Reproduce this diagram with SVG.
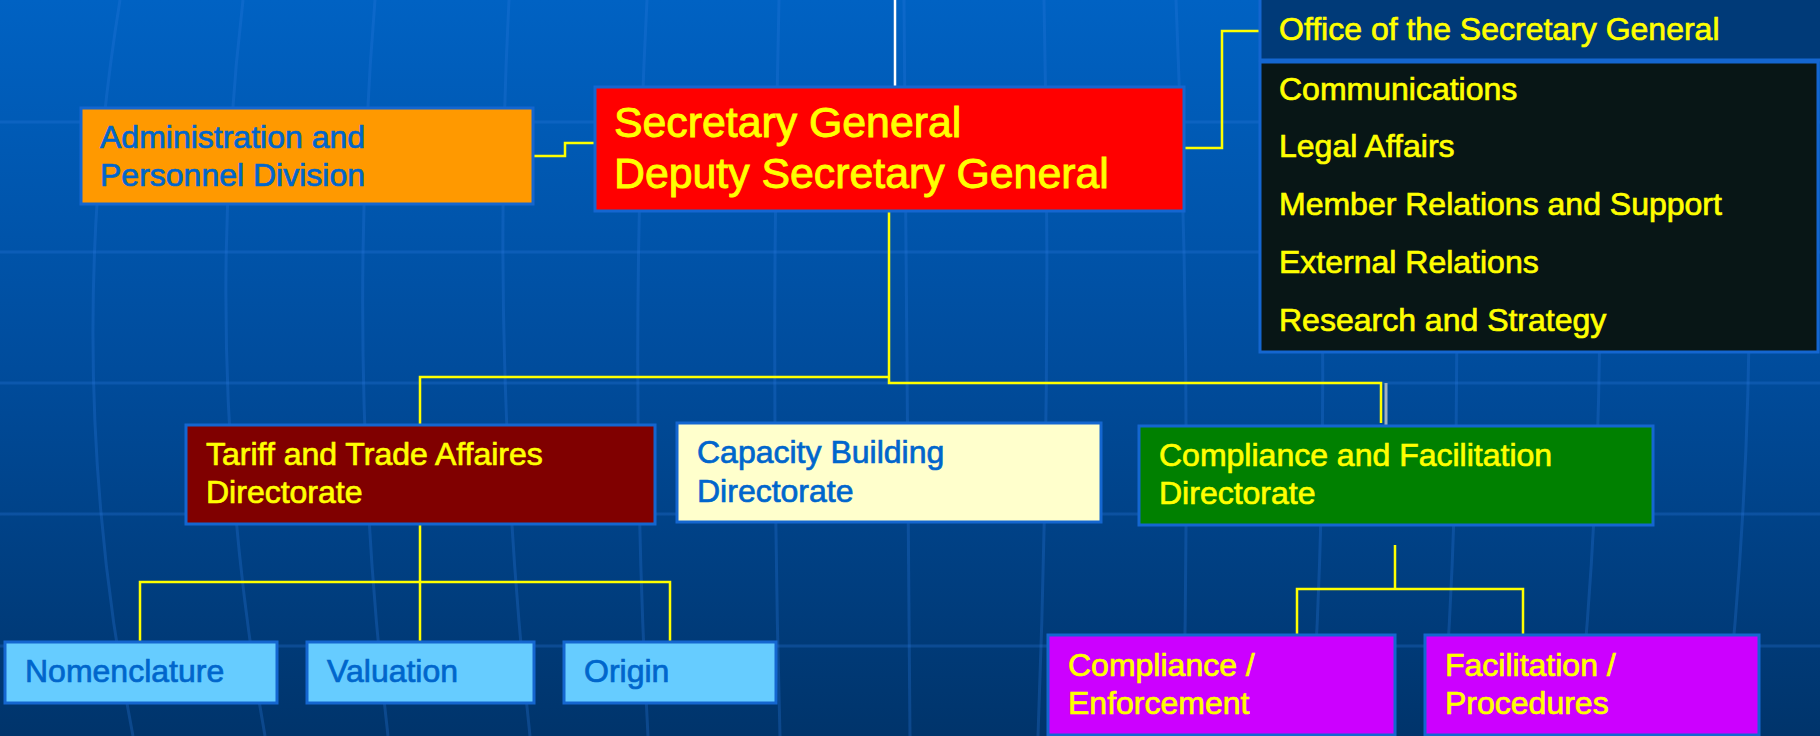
<svg xmlns="http://www.w3.org/2000/svg" width="1820" height="736" viewBox="0 0 1820 736">
<defs>
<linearGradient id="bg" x1="0" y1="0" x2="0" y2="1">
<stop offset="0" stop-color="#0062c3"/>
<stop offset="0.5" stop-color="#004c9c"/>
<stop offset="1" stop-color="#00346b"/>
</linearGradient>
<style>
.grid{fill:none;stroke:#2a7ae0;stroke-opacity:0.28;stroke-width:3}
.box{stroke:#1466d0;stroke-width:3}
.t{font-family:"Liberation Sans",Arial,sans-serif;font-size:32px;stroke-width:0.7px}
.big{font-size:42.8px;stroke-width:0.9px}
.y{fill:#ffff00;stroke:#ffff00}
.b{fill:#0066cc;stroke:#0066cc}
.con{fill:none;stroke:#ffff00;stroke-width:2.5}
</style>
</defs>
<rect width="1820" height="736" fill="url(#bg)"/>
<g id="grid">
<path class="grid" d="M0 122H1820M0 252H1820M0 383H1820M0 514H1820M0 646H1820"/>
<path class="grid" d="M120 0Q60 368 133 736"/>
<path class="grid" d="M243 0Q200 368 265 736"/>
<path class="grid" d="M375 0Q345 368 388 736"/>
<path class="grid" d="M509 0Q490 368 530 736"/>
<path class="grid" d="M647 0Q628 368 648 736"/>
<path class="grid" d="M779 0Q770 368 780 736"/>
<path class="grid" d="M904 0Q908 368 910 736"/>
<path class="grid" d="M1044 0Q1052 368 1038 736"/>
<path class="grid" d="M1176 0Q1192 368 1183 736"/>
<path class="grid" d="M1310 0Q1335 368 1311 736"/>
<path class="grid" d="M1445 0Q1470 368 1442 736"/>
<path class="grid" d="M1590 0Q1615 368 1577 736"/>
<path class="grid" d="M1740 0Q1765 368 1724 736"/>
</g>
<g id="connectors">
<path d="M895 0V93" fill="none" stroke="#ffffff" stroke-width="2.5"/>
<path class="con" d="M533 156H565V143H595"/>
<path class="con" d="M1184 148H1222V31H1260"/>
<path class="con" d="M889 211V383H1381V423"/>
<path class="con" d="M889 377H420V425"/>
<path d="M1386 383V429" fill="none" stroke="#a0b0c0" stroke-width="3"/>
<path class="con" d="M420 524V642M140 642V582H670V642"/>
<path class="con" d="M1395 545V589M1297 635V589H1523V635"/>
</g>
<g id="admin">
<rect class="box" x="81" y="108" width="452" height="96" fill="#ff9900"/>
<text class="t b" x="100" y="148">Administration and</text>
<text class="t b" x="100" y="186">Personnel Division</text>
</g>
<g id="secretary-general">
<rect class="box" x="595" y="87" width="589" height="124" fill="#ff0000"/>
<text class="t big y" x="614" y="137">Secretary General</text>
<text class="t big y" x="614" y="188">Deputy Secretary General</text>
</g>
<g id="office">
<rect class="box" x="1260" y="-2" width="562" height="62" fill="#003a78"/>
<text class="t y" x="1279" y="40">Office of the Secretary General</text>
</g>
<g id="office-units">
<rect class="box" x="1260" y="62" width="558" height="290" fill="#081616"/>
<text class="t y" x="1279" y="100">Communications</text>
<text class="t y" x="1279" y="157">Legal Affairs</text>
<text class="t y" x="1279" y="215">Member Relations and Support</text>
<text class="t y" x="1279" y="273">External Relations</text>
<text class="t y" x="1279" y="331">Research and Strategy</text>
</g>
<g id="tariff">
<rect class="box" x="186" y="425" width="469" height="99" fill="#800000"/>
<text class="t y" x="206" y="465">Tariff and Trade Affaires</text>
<text class="t y" x="206" y="503">Directorate</text>
</g>
<g id="capacity">
<rect class="box" x="677" y="423" width="424" height="99" fill="#ffffcc"/>
<text class="t b" x="697" y="463">Capacity Building</text>
<text class="t b" x="697" y="502">Directorate</text>
</g>
<g id="compliance-facilitation">
<rect class="box" x="1139" y="426" width="514" height="99" fill="#008000"/>
<text class="t y" x="1159" y="466">Compliance and Facilitation</text>
<text class="t y" x="1159" y="504">Directorate</text>
</g>
<g id="nomenclature">
<rect class="box" x="5" y="642" width="272" height="61" fill="#66ccff"/>
<text class="t b" x="25" y="682">Nomenclature</text>
</g>
<g id="valuation">
<rect class="box" x="307" y="642" width="227" height="61" fill="#66ccff"/>
<text class="t b" x="327" y="682">Valuation</text>
</g>
<g id="origin">
<rect class="box" x="564" y="642" width="212" height="61" fill="#66ccff"/>
<text class="t b" x="584" y="682">Origin</text>
</g>
<g id="compliance-enforcement">
<rect class="box" x="1048" y="635" width="347" height="100" fill="#cc00ff"/>
<text class="t y" x="1068" y="676">Compliance /</text>
<text class="t y" x="1068" y="714">Enforcement</text>
</g>
<g id="facilitation-procedures">
<rect class="box" x="1425" y="635" width="334" height="100" fill="#cc00ff"/>
<text class="t y" x="1445" y="676">Facilitation /</text>
<text class="t y" x="1445" y="714">Procedures</text>
</g>
</svg>
